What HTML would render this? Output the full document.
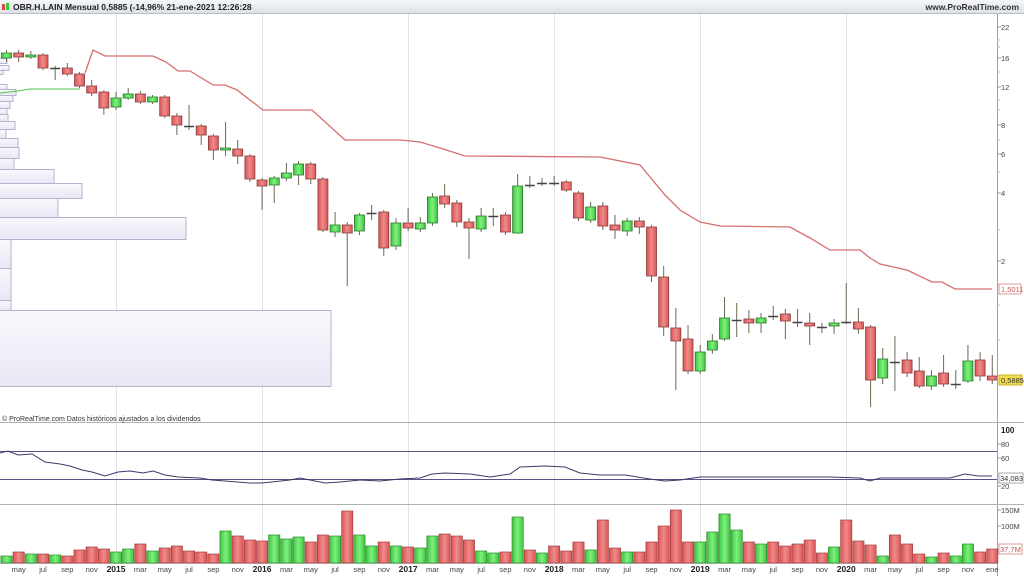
<!DOCTYPE html>
<html><head><meta charset="utf-8">
<style>
html,body{margin:0;padding:0;background:#fff;}
body{width:1024px;height:576px;overflow:hidden;font-family:"Liberation Sans",sans-serif;}
svg{display:block}
text{font-family:"Liberation Sans",sans-serif;}
</style></head><body>
<svg id="s" width="1024" height="576" xmlns="http://www.w3.org/2000/svg">
<defs>
<linearGradient id="hd" x1="0" y1="0" x2="0" y2="1"><stop offset="0" stop-color="#f4f6f8"/><stop offset="1" stop-color="#dde2e8"/></linearGradient>
<linearGradient id="gr" x1="0" y1="0" x2="1" y2="0"><stop offset="0" stop-color="#3ec43e"/><stop offset=".5" stop-color="#7ff07f"/><stop offset="1" stop-color="#3ec43e"/></linearGradient>
<linearGradient id="rd" x1="0" y1="0" x2="1" y2="0"><stop offset="0" stop-color="#d95555"/><stop offset=".5" stop-color="#f08a8a"/><stop offset="1" stop-color="#d95555"/></linearGradient>
<linearGradient id="vp" x1="0" y1="0" x2="0" y2="1"><stop offset="0" stop-color="#f8f8fc"/><stop offset="1" stop-color="#e8e8f6"/></linearGradient>
</defs>
<rect x="0" y="0" width="1024" height="13" fill="url(#hd)"/>
<line x1="0" y1="13.5" x2="1024" y2="13.5" stroke="#b8bec6"/>
<rect x="2" y="4" width="3" height="6" fill="#d44"/><rect x="6" y="3" width="3" height="7" fill="#3c3"/>
<text x="13" y="10" font-size="8.5" font-weight="bold" fill="#222">OBR.H.LAIN Mensual 0,5885 (-14,96% 21-ene-2021 12:26:28</text>
<text x="1019" y="10" font-size="8.5" font-weight="bold" fill="#333" text-anchor="end">www.ProRealTime.com</text>
<g id="g"></g>
</svg>
<script>
var S=document.getElementById('g'),NS='http://www.w3.org/2000/svg';
function el(t,a,txt){var e=document.createElementNS(NS,t);for(var k in a)e.setAttribute(k,a[k]);if(txt!==undefined)e.textContent=txt;S.appendChild(e);return e;}
function X(i){return 6.5+12.17*i;}
[116,262,408,554,700,846].forEach(function(x){el('line',{x1:x+.5,y1:14,x2:x+.5,y2:563,stroke:'#e2e2e6'});});
var vp=[[58,63,8],[65,70,10],[70,74,4],[84,89,8],[89,95,17],[95,101,14],[101,108,11],[108,114,8],[114,121,9],[121,129,16],[129,138,7],[138,147,19],[147,158,20],[158,169,15],[169,183,55],[183,198,83],[198,217,59],[217,239,187],[239,268,12],[268,300,12],[300,310,12],[310,386,332]];
vp.forEach(function(b){el('rect',{x:-1,y:b[0]+.5,width:b[2],height:b[1]-b[0],fill:'url(#vp)',stroke:'#b4b4cc','stroke-width':1});});
var C=[[58,53,50,62],[53,57,50,62],[57,55,51,59],[55,68,53,70],[68,68,66,80],[68,74,63,76],[74,86,72,88],[86,93,80,96],[92,108,90,115],[107,98,92,110],[98,94,88,100],[94,102,91,104],[102,97,95,104],[97,116,95,118],[116,125,113,135],[126,126,105,130],[126,135,124,145],[136,150,134,160],[150,148,122,156],[149,156,140,164],[156,179,154,182],[180,186,178,210],[185,178,176,203],[178,173,163,181],[175,164,161,185],[164,179,162,184],[179,230,177,232],[232,225,212,237],[225,233,222,286],[231,215,213,235],[213,213,205,220],[212,248,210,256],[246,223,218,250],[223,228,208,231],[229,223,217,232],[223,197,193,226],[196,204,184,208],[203,222,200,227],[222,228,218,259],[229,216,208,232],[216,216,208,226],[215,232,212,235],[233,186,174,234],[185,185,176,188],[183,183,178,186],[183,183,176,186],[182,190,180,192],[193,218,191,221],[220,207,202,223],[206,226,202,230],[225,230,215,239],[231,221,218,236],[221,227,217,234],[227,276,225,282],[277,327,266,336],[328,341,308,390],[339,371,325,374],[371,352,345,374],[350,341,334,354],[339,318,297,341],[320,320,303,337],[319,323,310,333],[323,318,313,333],[316,316,306,320],[314,321,309,339],[322,323,309,327],[323,326,313,345],[327,327,323,333],[326,323,319,334],[322,323,283,324],[322,329,308,334],[327,380,325,407],[378,359,348,384],[362,362,336,391],[360,373,352,377],[371,386,357,388],[386,376,370,390],[373,384,355,387],[384,384,370,389],[381,361,345,383],[360,376,352,381],[376,380,355,384]];
C.forEach(function(c,i){var x=X(i),up=c[1]<c[0],t=Math.min(c[0],c[1]),b=Math.max(c[0],c[1]);
 el('line',{x1:x,y1:c[2],x2:x,y2:c[3],stroke:'#6a6a52','stroke-width':1});
 if(b-t<1.5){el('line',{x1:x-5,y1:t+.5,x2:x+5,y2:t+.5,stroke:'#444','stroke-width':1.5});}
 else el('rect',{x:x-5,y:t,width:10,height:b-t,fill:up?'url(#gr)':'url(#rd)',stroke:up?'#2a7a2a':'#8a3a3a','stroke-width':0.8});
});
el('polyline',{points:'85,73 93,50 105,56 153,56 166,62 178,71 190,71 213,85 225,85 237,90 250,100 263,110 312,110 345,140 400,140 420,142 440,148 465,156 600,157 640,165 665,195 680,210 700,222 720,226 790,227 810,238 830,250 860,250 870,258 880,264 907,270 932,282 942,282 955,289 992,289',fill:'none',stroke:'#d66e6e','stroke-width':1.3});
el('polyline',{points:'0,93 18,91 30,89 80,89',fill:'none',stroke:'#4cc44c','stroke-width':1});
el('line',{x1:0,y1:422.5,x2:997,y2:422.5,stroke:'#b0b0b0'});
el('line',{x1:0,y1:504.5,x2:997,y2:504.5,stroke:'#b0b0b0'});
el('line',{x1:997.5,y1:14,x2:997.5,y2:576,stroke:'#a0a0a0'});
el('line',{x1:997,y1:422.5,x2:1024,y2:422.5,stroke:'#b0b0b0'});
el('line',{x1:997,y1:504.5,x2:1024,y2:504.5,stroke:'#b0b0b0'});
el('line',{x1:0,y1:563.5,x2:997,y2:563.5,stroke:'#c8c8c8'});
el('text',{x:2,y:421,'font-size':7,fill:'#333'},'© ProRealTime.com  Datos históricos ajustados a los dividendos');
[[22,27],[16,58],[12,87],[8,125],[6,154],[4,193],[2,261]].forEach(function(p){el('line',{x1:997,y1:p[1],x2:1001,y2:p[1],stroke:'#999'});el('text',{x:1001,y:p[1]+3,'font-size':7.5,fill:'#444'},String(p[0]));});
[40,47,72,100,110,140,172,230,305,340].forEach(function(y){el('line',{x1:997,y1:y,x2:1000,y2:y,stroke:'#bbb'});});
el('rect',{x:999,y:284,width:22,height:10,fill:'#fff',stroke:'#d99'});
el('text',{x:1001,y:292,'font-size':7.5,fill:'#c55'},'1,5011');
el('rect',{x:999,y:375,width:23,height:10,fill:'#f2dc4a',stroke:'#c9b030'});
el('text',{x:1001,y:383,'font-size':7.5,fill:'#333'},'0,5885');
el('line',{x1:0,y1:451.5,x2:997,y2:451.5,stroke:'#55558a'});
el('line',{x1:0,y1:479.5,x2:997,y2:479.5,stroke:'#55558a'});
el('polyline',{points:'0,453 8,451 18,455 32,454 45,462 60,464 70,466 82,470 92,472 105,476 118,472 130,471 143,473 153,471 165,475 178,477 200,478 212,480 225,481 250,483 262,483 290,480 300,478 325,483 340,482 360,480 380,481 400,479 420,478 432,474 445,473 470,474 490,477 510,474 520,467 545,466 565,467 580,473 600,475 625,475 650,479 665,481 680,480 700,477 760,477 830,477 860,478 870,481 880,478 900,478 950,478 965,474 978,476 992,476',fill:'none',stroke:'#3a3a66','stroke-width':1});
el('text',{x:1001,y:433,'font-size':8,'font-weight':'bold',fill:'#222'},'100');
[[80,444],[60,458],[20,486]].forEach(function(p){el('line',{x1:997,y1:p[1],x2:1001,y2:p[1],stroke:'#999'});el('text',{x:1001,y:p[1]+3,'font-size':7.5,fill:'#444'},String(p[0]));});
el('rect',{x:999,y:473,width:24,height:10,fill:'#fff',stroke:'#aaa'});
el('text',{x:1000,y:481,'font-size':7.5,fill:'#333'},'34,083');
var V=[556,552,554,554,555,556,550,547,549,552,549,544,551,548,546,551,552,554,531,536,540,541,535,539,537,542,535,536,511,535,546,542,546,547,548,536,534,536,540,551,553,552,517,550,553,546,551,542,550,520,548,552,552,542,526,510,542,542,532,514,530,542,544,542,546,544,540,553,547,520,541,545,556,535,544,554,557,553,556,544,552,549];
V.forEach(function(t,i){var c=C[i],up=c[1]<c[0]||(c[1]==c[0]&&i%2==0);var x=X(i);el('rect',{x:x-5.6,y:t,width:11.2,height:563-t,fill:up?'url(#gr)':'url(#rd)',stroke:up?'#2a8a2a':'#a04040','stroke-width':0.7});});
[['150M',510],['100M',526]].forEach(function(p){el('line',{x1:997,y1:p[1],x2:1001,y2:p[1],stroke:'#999'});el('text',{x:1001,y:p[1]+3,'font-size':7.5,fill:'#444'},p[0]);});
el('rect',{x:999,y:544,width:23,height:10,fill:'#fff',stroke:'#d99'});
el('text',{x:1000,y:552,'font-size':7.5,fill:'#c55'},'37,7M');
var m=['ene','feb','mar','abr','may','jun','jul','ago','sep','oct','nov','dic'];
for(var i=1;i<82;i+=2){var mo=(3+i)%12,yr=2014+Math.floor((3+i)/12);var isY=(mo==0&&yr<2021);var lab=isY?String(yr):m[mo];
 el('text',{x:X(i),y:572,'font-size':isY?8.5:7.5,'font-weight':isY?'bold':'normal',fill:isY?'#222':'#444','text-anchor':'middle'},lab);}
</script>
</body></html>
